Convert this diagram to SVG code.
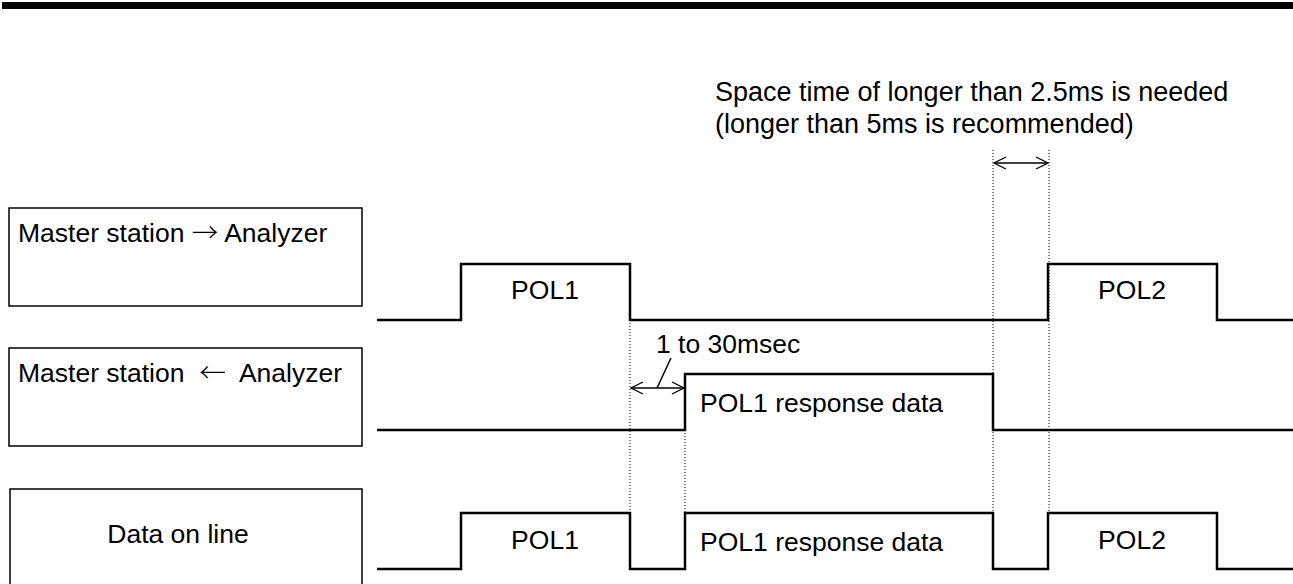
<svg xmlns="http://www.w3.org/2000/svg" width="1293" height="584" viewBox="0 0 1293 584">
<defs>
<style>
text{font-family:"Liberation Sans",Arial,sans-serif;font-size:26.5px;fill:#000}
.note{font-size:27px}
.arr{font-family:"Noto Sans CJK JP","Liberation Sans",sans-serif;font-weight:300}
.box{fill:#fff;stroke:#000;stroke-width:1.5}
.wave{fill:none;stroke:#000;stroke-width:2.5;stroke-linejoin:miter}
.dot{stroke:#000;stroke-width:1;stroke-dasharray:1 2;fill:none}
.dim{stroke:#000;stroke-width:1.5;fill:none}
</style>
<marker id="ah" viewBox="0 0 14 14" refX="13" refY="7" markerWidth="14" markerHeight="14" markerUnits="userSpaceOnUse" orient="auto-start-reverse">
<path d="M1,1 L13,7 L1,13" fill="none" stroke="#000" stroke-width="1.3"/>
</marker>
</defs>
<rect x="2" y="2" width="1291" height="7" fill="#000"/>
<text class="note" x="715" y="101">Space time of longer than 2.5ms is needed</text>
<text class="note" x="715" y="133">(longer than 5ms is recommended)</text>
<g id="label-tx">
<rect class="box" x="9" y="208" width="353" height="98"/>
<text x="18" y="242">Master station <tspan class="arr">→</tspan> Analyzer</text>
</g>
<g id="label-rx">
<rect class="box" x="9" y="348" width="353" height="98"/>
<text x="18" y="382" xml:space="preserve">Master station  <tspan class="arr">←</tspan>  Analyzer</text>
</g>
<g id="label-line">
<rect class="box" x="10" y="489" width="352" height="110"/>
<text x="178" y="543" text-anchor="middle">Data on line</text>
</g>
<g id="wave-tx">
<path class="wave" d="M377,320 H461 V264 H630 V320 H1048 V264 H1217 V320 H1293"/>
<text x="545" y="299" text-anchor="middle">POL1</text>
<text x="1132" y="299" text-anchor="middle">POL2</text>
</g>
<g id="wave-rx">
<path class="wave" d="M377,430 H685 V374 H993 V430 H1293"/>
<text x="700" y="412">POL1 response data</text>
</g>
<g id="wave-line">
<path class="wave" d="M377,569 H461 V513 H630 V569 H685 V513 H993 V569 H1048 V513 H1217 V569 H1293"/>
<text x="545" y="549" text-anchor="middle">POL1</text>
<text x="700" y="551">POL1 response data</text>
<text x="1132" y="549" text-anchor="middle">POL2</text>
</g>
<g id="connectors">
<line class="dot" x1="630" y1="320" x2="630" y2="513"/>
<line class="dot" x1="685" y1="430" x2="685" y2="513"/>
<line class="dot" x1="993" y1="150" x2="993" y2="513"/>
<line class="dot" x1="1049" y1="150" x2="1049" y2="513"/>
<line class="dim" x1="631" y1="388" x2="684" y2="388" marker-start="url(#ah)" marker-end="url(#ah)"/>
<line class="dim" x1="671" y1="358" x2="657" y2="388"/>
<line class="dim" x1="994" y1="163" x2="1048" y2="163" marker-start="url(#ah)" marker-end="url(#ah)"/>
<text x="656" y="353">1 to 30msec</text>
</g>
</svg>
